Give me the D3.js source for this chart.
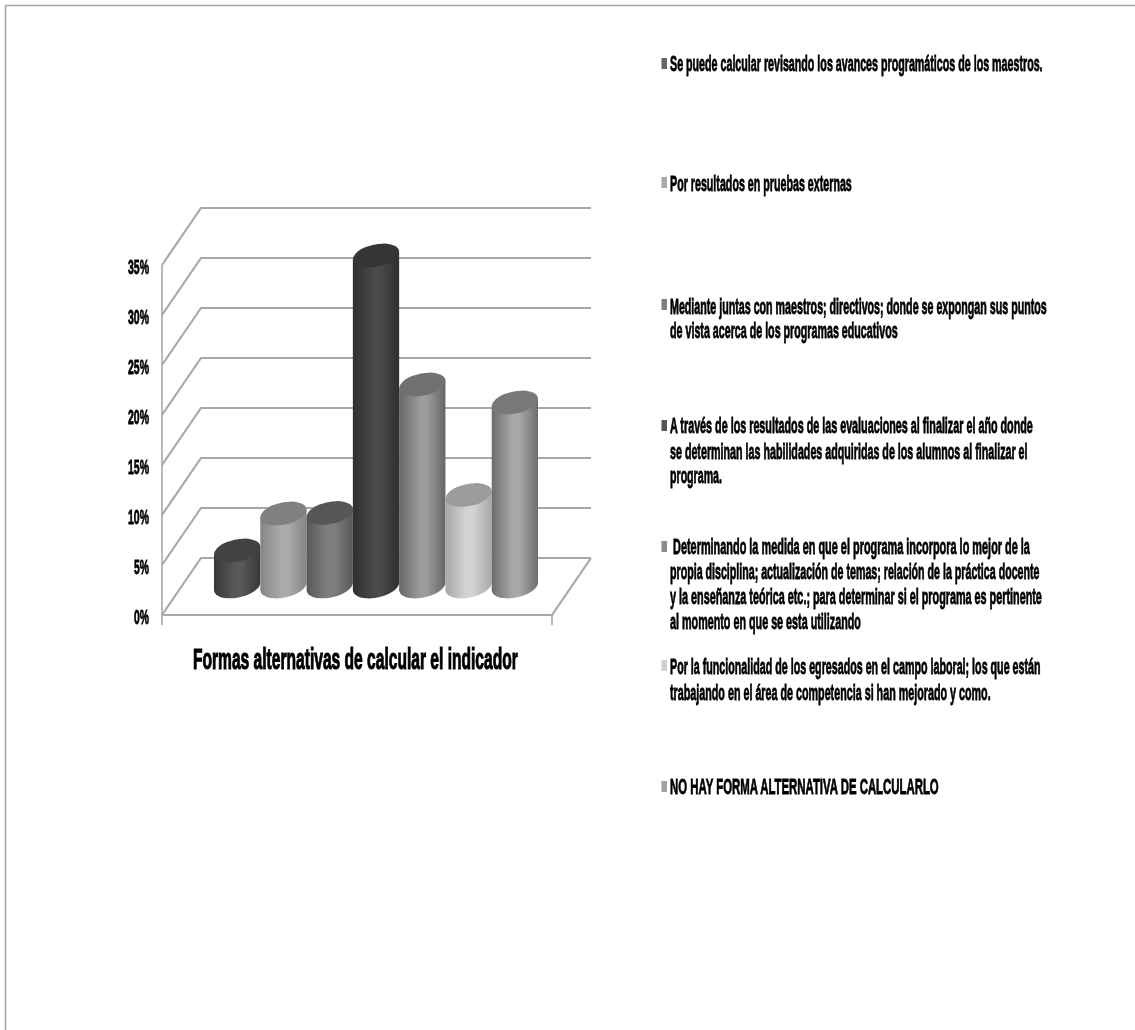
<!DOCTYPE html>
<html lang="es">
<head>
<meta charset="utf-8">
<script src="https://cdnjs.cloudflare.com/ajax/libs/d3/7.8.5/d3.min.js"></script>
<style>
html,body{margin:0;padding:0;background:#fff;overflow:hidden}
text{font-family:"Liberation Sans Narrow","Liberation Sans",Arial,sans-serif;font-weight:700;fill:#000;stroke:#000;stroke-width:.8px}
</style>
</head>
<body>
<svg id="c" width="1135" height="1030"></svg>
<script>
// Data
const categories = [
  "Se puede calcular revisando los avances programáticos de los maestros.",
  "Por resultados en pruebas externas",
  "Mediante juntas con maestros; directivos; donde se expongan sus puntos de vista acerca de los programas educativos",
  "A través de los resultados de las evaluaciones al finalizar el año donde se determinan las habilidades adquiridas de los alumnos al finalizar el programa.",
  "Determinando la medida en que el programa incorpora lo mejor de la propia disciplina; actualización de temas; relación de la práctica docente y la enseñanza teórica etc.; para determinar si el programa es pertinente al momento en que se esta utilizando",
  "Por la funcionalidad de los egresados en el campo laboral; los que están trabajando en el área de competencia si han mejorado y como.",
  "NO HAY FORMA ALTERNATIVA DE CALCULARLO"
];
const values = [3.6, 7.3, 7.35, 33.1, 20.2, 9.15, 18.4];
const yTicks = [0, 5, 10, 15, 20, 25, 30, 35];
const chartTitle = "Formas alternativas de calcular el indicador";
const legendLines = [
  ["Se puede calcular revisando los avances programáticos de los maestros."],
  ["Por resultados en pruebas externas"],
  ["Mediante juntas con maestros; directivos; donde se expongan sus puntos", "de vista acerca de los programas educativos"],
  ["A través de los resultados de las evaluaciones al finalizar el año donde", "se determinan las habilidades adquiridas de los alumnos al finalizar el", "programa."],
  ["Determinando la medida en que el programa incorpora lo mejor de la", "propia disciplina; actualización de temas; relación de la práctica docente", "y la enseñanza teórica etc.; para determinar si el programa es pertinente", "al momento en que se esta utilizando"],
  ["Por la funcionalidad de los egresados en el campo laboral; los que están", "trabajando en el área de competencia si han mejorado y como."],
  ["NO HAY FORMA ALTERNATIVA DE CALCULARLO"]
];

// Styles and layout (kept apart from the data)
const bodyEdge = ["#383838","#858585","#585858","#2f2f2f","#666666","#a8a8a8","#6c6c6c"];
const bodyMid  = ["#585858","#ababab","#7e7e7e","#484848","#9c9c9c","#d2d2d2","#a8a8a8"];
const topFill  = ["#434343","#808080","#575757","#343434","#717171","#9c9c9c","#787878"];
const swatches = ["#666666","#a9a9a9","#7f7f7f","#555555","#8c8c8c","#cfcfcf","#a2a2a2"];
const legendBaselines = [[71],[191],[314,338],[433,459,483],[554,579,604,629],[674,700],[794]];
const legendXs = [[670],[670],[670,670],[670,670,670],[673,670,670,670],[670,670],[670]];
const legendRights = [[1043],[852],[1047,898],[1033,1028,722],[1030,1040,1042,861],[1041,991],[939]];
const swatchTops = [58,177,299,420,541,660,781];

const frontX0 = 162, frontX1 = 552, depthX = 39, depthY = -57;
const y = d3.scaleLinear().domain([0, 35]).range([615, 265]);
const x = d3.scaleBand().domain(d3.range(values.length)).range([214, 538]).padding(0);

const svg = d3.select("#c");
const defs = svg.append("defs");
const softFilter = (id, dev) => defs.append("filter").attr("id",id)
  .attr("filterUnits","userSpaceOnUse").attr("x",0).attr("y",0).attr("width",1135).attr("height",1030)
  .append("feGaussianBlur").attr("stdDeviation",dev);
softFilter("soft",0.7);
softFilter("softT",0.4);
values.forEach((v,i)=>{
  const g = defs.append("linearGradient").attr("id","g"+i).attr("x1",0).attr("x2",1).attr("y1",0).attr("y2",0);
  g.append("stop").attr("offset","0%").attr("stop-color",bodyEdge[i]);
  g.append("stop").attr("offset","45%").attr("stop-color",bodyMid[i]);
  g.append("stop").attr("offset","60%").attr("stop-color",bodyMid[i]);
  g.append("stop").attr("offset","100%").attr("stop-color",bodyEdge[i]);
});

// Squeeze a text horizontally so that it spans the given width
function fit(sel, left, baseline, width){
  sel.attr("text-anchor","start").attr("x",0).attr("y",0).attr("dy",0);
  const natural = sel.node().getComputedTextLength();
  sel.attr("transform",`translate(${left},${baseline}) scale(${width/natural},1)`);
}

// Page border
svg.append("path").attr("d","M5.5,1030V5.5H1135").attr("fill","none").attr("stroke","#a6a6a6").attr("stroke-width",1.6);

// 3D frame
const frame = svg.append("g").attr("filter","url(#soft)").attr("fill","none").attr("stroke","#a8a8a8");
frame.selectAll("path.back").data(yTicks).join("path").attr("class","back").attr("stroke-width",2.2)
  .attr("d",t=>`M${frontX0},${y(t)}L${frontX0+depthX},${y(t)+depthY}H${frontX1+depthX}`);
frame.append("path").attr("stroke-width",2.2)
  .attr("d",`M${frontX0},${y(0)}H${frontX1}L${frontX1+depthX},${y(0)+depthY}`);
frame.append("path").attr("stroke-width",1.6)
  .attr("d",`M${frontX0},${y(35)}V${y(0)+10}M${frontX1},${y(0)}V${y(0)+10}`);

// Cylinders
const tilt = 12, th = tilt*Math.PI/180, ratio = 0.47;
const hw = x.bandwidth()/2;
const a = hw/Math.sqrt(Math.cos(th)**2 + (ratio*Math.sin(th))**2), b = a*ratio;
const dyT = (a*a-b*b)*Math.sin(th)*Math.cos(th)/hw;
const midBase = y(0) + depthY/2;
const bars = svg.append("g").attr("filter","url(#soft)").selectAll("g").data(values).join("g");
bars.append("path").attr("fill",(d,i)=>`url(#g${i})`)
  .attr("d",(d,i)=>{
    const cx = x(i)+hw, top = y(d)+depthY/2;
    return `M${cx-hw},${top+dyT}L${cx-hw},${midBase+dyT}`+
      `A${a},${b} ${-tilt} 0 0 ${cx+hw},${midBase-dyT}L${cx+hw},${top-dyT}Z`;
  });
bars.append("ellipse").attr("fill",(d,i)=>topFill[i])
  .attr("rx",a).attr("ry",b)
  .attr("transform",(d,i)=>`translate(${x(i)+hw},${y(d)+depthY/2}) rotate(${-tilt})`);

// Y axis
const axisWrap = svg.append("g").attr("filter","url(#softT)");
const axis = axisWrap.append("g")
  .call(d3.axisLeft(y).tickValues(yTicks).tickFormat(d=>d+"%").tickSize(0).tickPadding(0));
axis.select(".domain").remove();
axis.selectAll("text").style("font-size","21px").each(function(d){
  const w = d<10?15:21;
  fit(d3.select(this), 149-w, 8, w);
});

// Title
const titleText = svg.append("g").attr("filter","url(#softT)").append("text")
  .style("font-size","30px").style("stroke-width","1.1px").text(chartTitle);
fit(titleText, 193, 669, 325);

// Legend
const leg = svg.append("g").selectAll("rect").data(legendLines).join("rect")
  .attr("x",661.5).attr("width",5.5).attr("height",11)
  .attr("y",(d,i)=>swatchTops[i]).attr("fill",(d,i)=>swatches[i]);
const legText = svg.append("g").attr("filter","url(#softT)");
legendLines.forEach((lines,i)=>{
  legText.append("g").selectAll("text").data(lines).join("text")
    .style("font-size","22px")
    .text(d=>d)
    .each(function(d,j){
      fit(d3.select(this), legendXs[i][j], legendBaselines[i][j], legendRights[i][j]-legendXs[i][j]);
    });
});
</script>
</body>
</html>
